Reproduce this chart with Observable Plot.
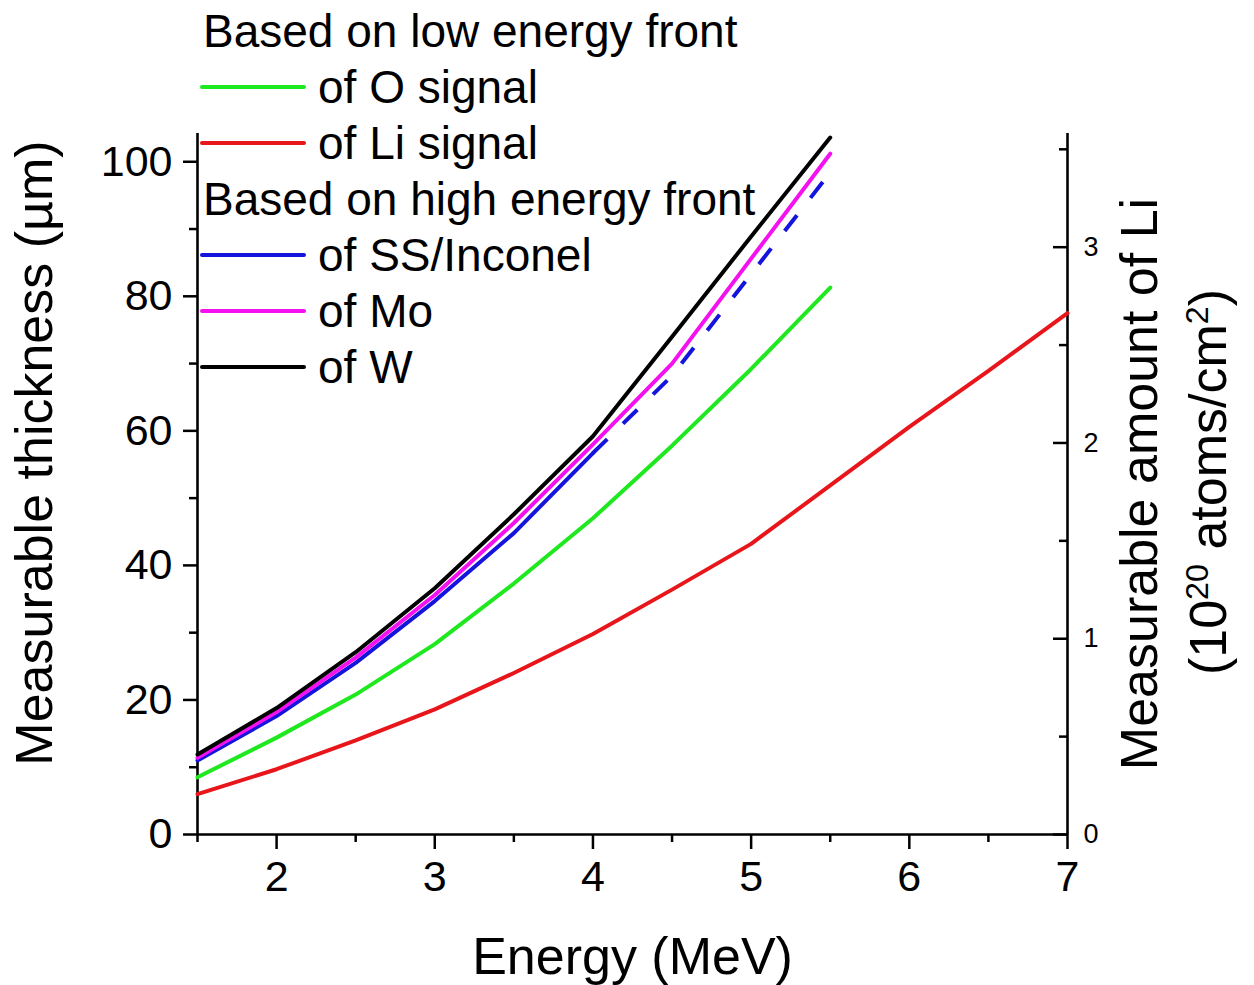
<!DOCTYPE html>
<html><head><meta charset="utf-8">
<script src="https://cdn.jsdelivr.net/npm/d3@7"></script>
<script src="https://cdn.jsdelivr.net/npm/@observablehq/plot@0.6"></script>
<style>
body{margin:0;background:#fff;}
#wrap{position:relative;width:1254px;height:985px;font-family:"Liberation Sans",Arial,sans-serif;background:#fff;}
#wrap svg{position:absolute;left:0;top:0;}
#legend{position:absolute;left:0;top:0;}
.row{position:absolute;left:0;height:56px;line-height:56px;font-size:46px;color:#000;white-space:nowrap;}
.swatch{position:absolute;left:200px;top:26px;width:106px;height:4px;border-radius:2px;}
.lbl{position:absolute;left:318px;top:0;}
.hdr{position:absolute;left:203px;top:0;}
</style></head>
<body><div id="wrap"></div>
<script>
// ---- data ----
const energy = [1.5, 2, 2.5, 3, 3.5, 4, 4.5, 5, 5.5];
const oSignal = [8.5, 14.4, 20.8, 28.3, 37.3, 47.0, 57.8, 69.2, 81.3];
const liEnergy = [1.5, 2, 2.5, 3, 3.5, 4, 4.5, 5, 5.5, 6, 6.5, 7];
const liSignal = [6.0, 9.7, 14.0, 18.6, 24.0, 29.8, 36.4, 43.2, 51.9, 60.6, 68.9, 77.5];
const ssEnergySolid = [1.5, 2, 2.5, 3, 3.5, 4];
const ssSolid = [11.0, 17.6, 25.5, 34.7, 44.8, 56.7];
const ssEnergyDashed = [4, 4.5, 5, 5.5];
const ssDashed = [56.7, 68.2, 83.3, 98.4];
const moValues = [11.4, 18.2, 26.3, 35.6, 46.3, 58.0, 70.0, 85.6, 101.2];
const wValues = [11.9, 18.8, 27.1, 36.6, 47.6, 59.2, 74.0, 88.9, 103.6];

const xMajor = [2, 3, 4, 5, 6, 7];
const xMinor = [1.5, 2.5, 3.5, 4.5, 5.5, 6.5];
const yMajor = [0, 20, 40, 60, 80, 100];
const yMinor = [10, 30, 50, 70, 90];
const rightMajor = [0, 1, 2, 3];
const rightMinor = [0.5, 1.5, 2.5, 3.5];
const rightFactor = 29.1; // µm per 10^20 atoms/cm^2

const legendLabels = ["Based on low energy front", "of O signal", "of Li signal",
  "Based on high energy front", "of SS/Inconel", "of Mo", "of W"];
const legendColors = [null, "#1ee81e", "#e8161b", null, "#1414dc", "#f510f0", "#000000"];

const cO = legendColors[1], cLi = legendColors[2], cSS = legendColors[4], cMo = legendColors[5], cW = legendColors[6];
const lw = 4;

const chart = Plot.plot({
  width: 1254,
  height: 985,
  marginLeft: 197,
  marginRight: 187,
  marginTop: 133,
  marginBottom: 151,
  style: {fontFamily: "Liberation Sans, Arial, sans-serif", color: "black", background: "white", overflow: "visible"},
  x: {domain: [1.5, 7]},
  y: {domain: [0, 104.2]},
  marks: [
    Plot.axisX({ticks: xMajor, tickFormat: d => String(d), tickSize: 15, tickPadding: 11, fontSize: 43, strokeWidth: 2.5, label: null}),
    Plot.axisX({ticks: xMinor, tickSize: 8, tickFormat: () => "", strokeWidth: 2.5, label: null}),
    Plot.axisY({ticks: yMajor, tickFormat: d => String(d), tickSize: 14, tickPadding: 11, fontSize: 43, strokeWidth: 2.5, label: null}),
    Plot.axisY({ticks: yMinor, tickSize: 8, tickFormat: () => "", strokeWidth: 2.5, label: null}),
    Plot.axisY({anchor: "right", ticks: rightMajor.map(v => v * rightFactor), tickFormat: () => "",
      tickSize: 15, dx: -15, strokeWidth: 2.5, label: null}),
    Plot.axisY({anchor: "right", ticks: rightMinor.map(v => v * rightFactor), tickFormat: () => "",
      tickSize: 9, dx: -9, strokeWidth: 2.5, label: null}),
    Plot.text(rightMajor, {y: d => d * rightFactor, text: d => String(d), frameAnchor: "right", dx: 16,
      textAnchor: "start", lineAnchor: "middle", fontSize: 27}),
    Plot.ruleX([1.5], {stroke: "black", strokeWidth: 2.6}),
    Plot.ruleX([7], {stroke: "black", strokeWidth: 2.6}),
    Plot.ruleY([0], {stroke: "black", strokeWidth: 2.6}),
    Plot.lineY(liSignal, {x: liEnergy, stroke: cLi, strokeWidth: lw}),
    Plot.lineY(oSignal, {x: energy, stroke: cO, strokeWidth: lw}),
    Plot.lineY(ssSolid, {x: ssEnergySolid, stroke: cSS, strokeWidth: lw}),
    Plot.lineY(ssDashed, {x: ssEnergyDashed, stroke: cSS, strokeWidth: lw, strokeDasharray: "20,22", strokeLinecap: "butt"}),
    Plot.lineY(moValues, {x: energy, stroke: cMo, strokeWidth: lw}),
    Plot.lineY(wValues, {x: energy, stroke: cW, strokeWidth: lw}),
    Plot.text(["Measurable thickness (µm)"], {frameAnchor: "left", rotate: -90, dx: -162, dy: -31, fontSize: 52, lineAnchor: "middle", textAnchor: "middle"}),
    Plot.text(["Energy (MeV)"], {frameAnchor: "bottom", dy: 123, fontSize: 52, lineAnchor: "middle", textAnchor: "middle"}),
    Plot.text(["Measurable amount of Li"], {frameAnchor: "right", rotate: -90, dx: 73, dy: 0, fontSize: 52, lineAnchor: "middle", textAnchor: "middle"}),
    Plot.text(["(10^20 atoms/cm^2)"], {frameAnchor: "right", rotate: -90, dx: 142, dy: -2, fontSize: 52, lineAnchor: "middle", textAnchor: "middle", className: "rt2"})
  ]
});

// superscripts in the right-hand title
const t2 = d3.select(chart).selectAll("text").filter(function() { return this.textContent === "(10^20 atoms/cm^2)"; });
t2.text(null);
t2.append("tspan").text("(10");
t2.append("tspan").attr("baseline-shift", "super").attr("font-size", "62%").text("20");
t2.append("tspan").text(" atoms/cm");
t2.append("tspan").attr("baseline-shift", "super").attr("font-size", "62%").text("2");
t2.append("tspan").text(")");

const wrap = document.getElementById("wrap");
wrap.appendChild(chart);

// legend overlay
const legend = document.createElement("div");
legend.id = "legend";
legendLabels.forEach((label, i) => {
  const row = document.createElement("div");
  row.className = "row";
  row.style.top = (3 + i * 56) + "px";
  row.style.width = "800px";
  if (legendColors[i] === null) {
    const h = document.createElement("span");
    h.className = "hdr";
    h.textContent = label;
    row.appendChild(h);
  } else {
    const sw = document.createElement("div");
    sw.className = "swatch";
    sw.style.background = legendColors[i];
    row.appendChild(sw);
    const l = document.createElement("span");
    l.className = "lbl";
    l.textContent = label;
    row.appendChild(l);
  }
  legend.appendChild(row);
});
wrap.appendChild(legend);
</script>
</body></html>
